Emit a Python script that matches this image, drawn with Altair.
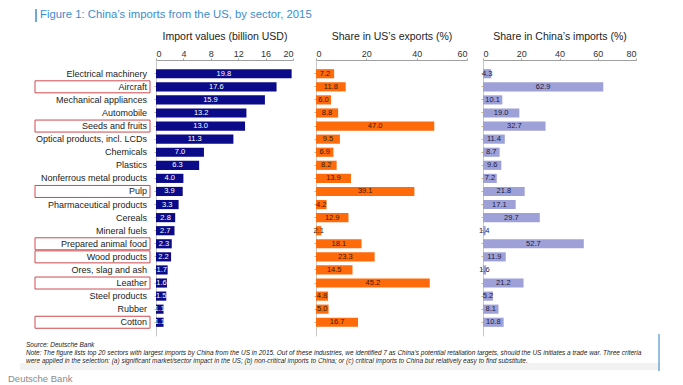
import altair as alt
import pandas as pd

sectors = [
    "Electrical machinery", "Aircraft", "Mechanical appliances", "Automobile",
    "Seeds and fruits", "Optical products, incl. LCDs", "Chemicals", "Plastics",
    "Nonferrous metal products", "Pulp", "Pharmaceutical products", "Cereals",
    "Mineral fuels", "Prepared animal food", "Wood products", "Ores, slag and ash",
    "Leather", "Steel products", "Rubber", "Cotton",
]
import_values = [19.8, 17.6, 15.9, 13.2, 13.0, 11.3, 7.0, 6.3, 4.0, 3.9,
                 3.3, 2.8, 2.7, 2.3, 2.2, 1.7, 1.6, 1.5, 1.1, 1.1]
us_export_share = [7.2, 11.8, 6.0, 8.8, 47.0, 9.5, 6.9, 8.2, 13.9, 39.1,
                   4.2, 12.9, 2.1, 18.1, 23.3, 14.5, 45.2, 4.8, 5.0, 16.7]
china_import_share = [4.3, 62.9, 10.1, 19.0, 32.7, 11.4, 8.7, 9.6, 7.2, 21.8,
                      17.1, 29.7, 1.4, 52.7, 11.9, 1.6, 21.2, 5.2, 8.1, 10.8]
highlighted = ["Aircraft", "Seeds and fruits", "Pulp", "Prepared animal food",
               "Wood products", "Leather", "Cotton"]

title_text = "Figure 1: China\u2019s imports from the US, by sector, 2015"
panel_titles = ["Import values (billion USD)", "Share in US\u2019s exports (%)",
                "Share in China\u2019s imports (%)"]
source_text = "Source: Deutsche Bank"
note_lines = [
    "Note: The figure lists top 20 sectors with largest imports by China from the US in 2015. Out of these industries, we identified 7 as China\u2019s potential retaliation targets, should the US initiates a trade war. Three criteria",
    "were applied in the selection: (a) significant market/sector impact in the US; (b) non-critical imports to China; or (c) critical imports to China but relatively easy to find substitute.",
]
footer_brand = "Deutsche Bank"

df = pd.DataFrame({
    "sector": sectors,
    "imp": import_values,
    "us": us_export_share,
    "cn": china_import_share,
})
df["highlight"] = df["sector"].isin(highlighted)
one = pd.DataFrame({"k": [0]})

H = 276
FONT = "Liberation Sans"
BLUE = "#3b8ed0"
RED = "#d0494d"

yscale = alt.Scale(paddingInner=0.3, paddingOuter=0.7)


def ysort(axis):
    return alt.Y("sector:N", sort=sectors, scale=yscale, axis=axis)


def panel(field, domain, ticks, width, color, text_color, title):
    xs = alt.Scale(domain=domain, nice=False)
    x_axis = alt.Axis(
        orient="top", values=ticks, title=title, grid=False,
        domainColor="#a0a0a0", tickColor="#a0a0a0", tickSize=2,
        labelPadding=0, labelFontSize=9, labelColor="#333333",
        titleFontSize=10.5, titleFontWeight="normal", titleColor="#222222",
        titlePadding=8)
    y_axis = alt.Axis(labels=False, title=None, domainColor="#c8c8c8",
                      tickColor="#c8b08a", tickSize=2, grid=False)
    base = alt.Chart(df).transform_calculate(mid=f"datum['{field}'] / 2")
    bars = base.mark_bar(color=color).encode(
        y=ysort(y_axis),
        x=alt.X(f"{field}:Q", scale=xs, axis=x_axis, title=title),
    )
    labels = base.mark_text(fontSize=7.5, color=text_color, baseline="middle").encode(
        y=ysort(y_axis),
        x=alt.X("mid:Q", scale=xs, axis=x_axis, title=title),
        text=alt.Text(f"{field}:Q", format=".1f"),
    )
    return alt.layer(bars, labels).properties(width=width, height=H)


# label column (also hosts title and footer)
boxes = alt.Chart(df).transform_filter("datum.highlight").mark_bar(
    size=12, fill="white", stroke=RED, strokeWidth=1
).encode(y=ysort(None), x=alt.value(27), x2=alt.value(142))
cat_text = alt.Chart(df).mark_text(
    align="right", baseline="middle", fontSize=9, color="#222222"
).encode(y=ysort(None), x=alt.value(139), text="sector:N")
title_rule = alt.Chart(one).mark_rule(color=BLUE, strokeWidth=1.5).encode(
    x=alt.value(28), y=alt.value(-51), y2=alt.value(-38))
title_mark = alt.Chart(one).mark_text(
    align="left", baseline="middle", fontSize=11.3, color=BLUE, text=title_text
).encode(x=alt.value(32), y=alt.value(-45))
band = alt.Chart(one).mark_rect(color="#f2f2f2").encode(
    x=alt.value(12), x2=alt.value(652), y=alt.value(303), y2=alt.value(310))
right_line = alt.Chart(one).mark_rule(color="#2f7fc0", strokeWidth=1).encode(
    x=alt.value(651), y=alt.value(274), y2=alt.value(311))
src = alt.Chart(one).mark_text(
    align="left", baseline="middle", fontSize=6.5, fontStyle="italic",
    color="#222222", text=source_text
).encode(x=alt.value(18), y=alt.value(285))
note1 = alt.Chart(one).mark_text(
    align="left", baseline="middle", fontSize=6.5, fontStyle="italic",
    color="#222222", text=note_lines[0]
).encode(x=alt.value(18), y=alt.value(293))
note2 = alt.Chart(one).mark_text(
    align="left", baseline="middle", fontSize=6.5, fontStyle="italic",
    color="#222222", text=note_lines[1]
).encode(x=alt.value(18), y=alt.value(300.5))
brand = alt.Chart(one).mark_text(
    align="left", baseline="middle", fontSize=9.5, color="#8a8a8a",
    text=footer_brand
).encode(x=alt.value(0), y=alt.value(319))

label_panel = alt.layer(
    band, right_line, boxes, cat_text, title_rule, title_mark, src, note1, note2, brand
).properties(width=142, height=H)


def spacer(w):
    return alt.Chart(one).mark_point(opacity=0).properties(width=w, height=H)


p1 = panel("imp", [0, 20], [0, 4, 8, 12, 16, 20], 137, "#0b0b8a", "white", panel_titles[0])
p2 = panel("us", [0, 60], [0, 20, 40, 60], 151, "#ff6a0a", "#3a1a00", panel_titles[1])
p3 = panel("cn", [0, 80], [0, 20, 40, 60, 80], 153, "#9ea1d8", "#1a1a40", panel_titles[2])

chart = alt.hconcat(
    label_panel, spacer(6), p1, spacer(23), p2, spacer(16), p3,
    spacing=0, bounds="flush"
).properties(padding=0).configure(
    font=FONT, view=alt.ViewConfig(stroke=None)
)

chart.save("out.html", embed_options={"renderer": "svg", "actions": False})
